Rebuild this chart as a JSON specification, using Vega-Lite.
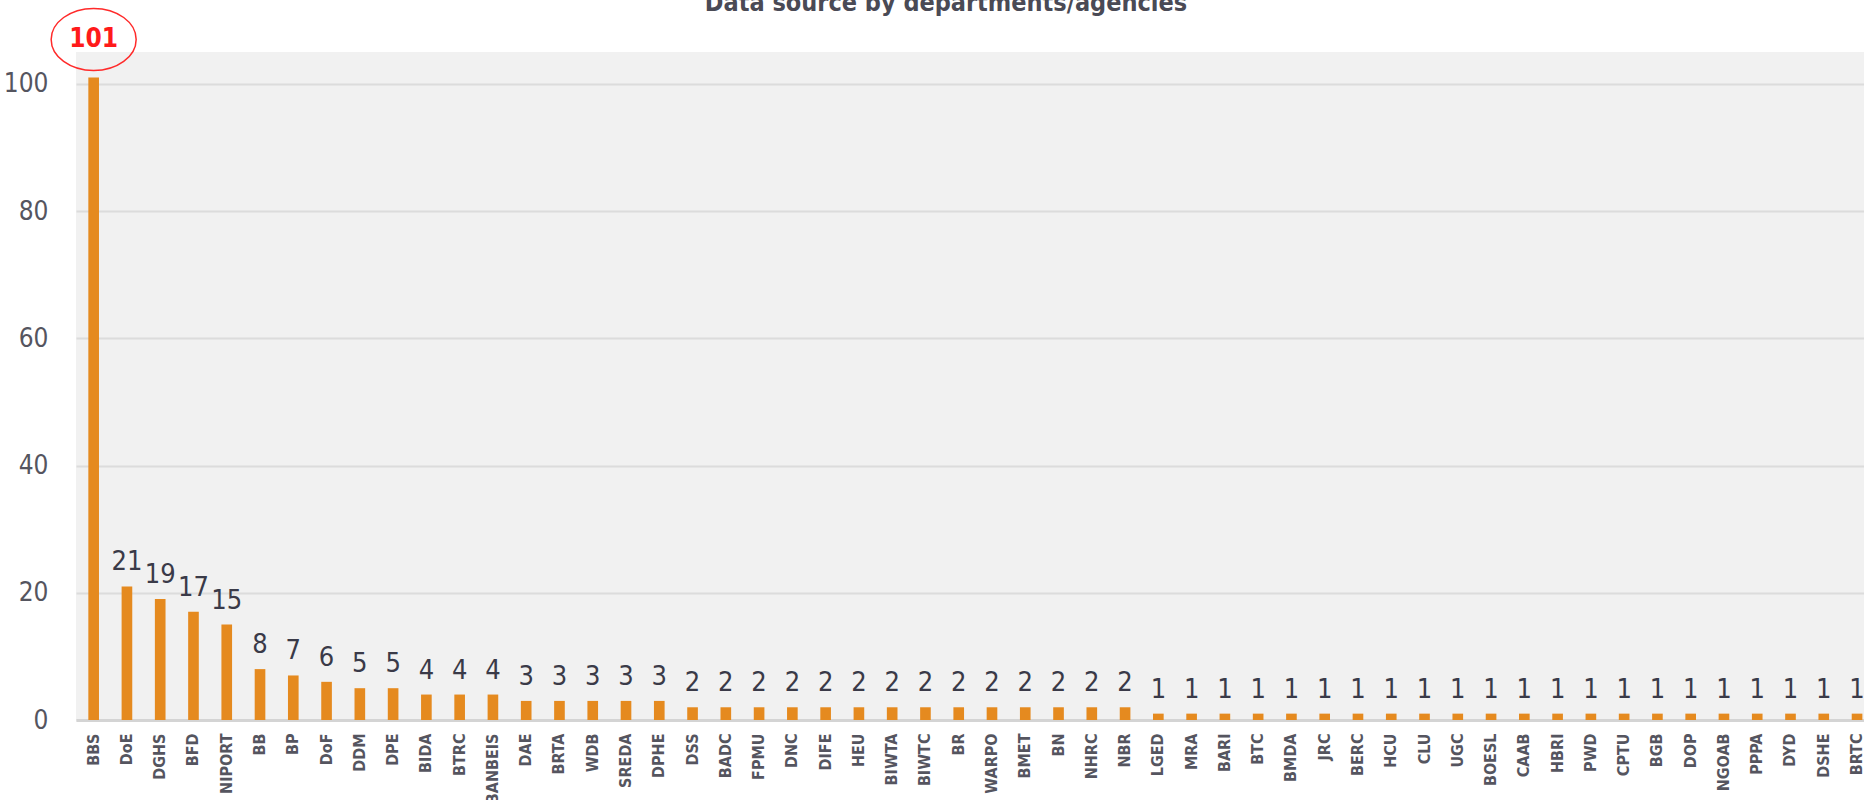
{
  "$schema": "https://vega.github.io/schema/vega-lite/v6.json",
  "autosize": {"type": "none"},
  "padding": {"left": 76, "top": 52, "right": 0, "bottom": 80},
  "width": 1788,
  "height": 668,
  "background": "#ffffff",
  "title": {
    "text": "Data source by departments/agencies",
    "font": "DejaVu Sans Condensed, sans-serif",
    "fontSize": 25,
    "fontWeight": "bold",
    "color": "#4a4a55",
    "anchor": "middle",
    "baseline": "alphabetic",
    "offset": 0,
    "dy": 31,
    "dx": -24
  },
  "config": {
    "view": {"fill": "#f1f1f1", "stroke": null},
    "font": "DejaVu Sans Condensed, sans-serif"
  },
  "data": {
    "values": [
      {"agency": "BBS", "count": 101},
      {"agency": "DoE", "count": 21},
      {"agency": "DGHS", "count": 19},
      {"agency": "BFD", "count": 17},
      {"agency": "NIPORT", "count": 15},
      {"agency": "BB", "count": 8},
      {"agency": "BP", "count": 7},
      {"agency": "DoF", "count": 6},
      {"agency": "DDM", "count": 5},
      {"agency": "DPE", "count": 5},
      {"agency": "BIDA", "count": 4},
      {"agency": "BTRC", "count": 4},
      {"agency": "BANBEIS", "count": 4},
      {"agency": "DAE", "count": 3},
      {"agency": "BRTA", "count": 3},
      {"agency": "WDB", "count": 3},
      {"agency": "SREDA", "count": 3},
      {"agency": "DPHE", "count": 3},
      {"agency": "DSS", "count": 2},
      {"agency": "BADC", "count": 2},
      {"agency": "FPMU", "count": 2},
      {"agency": "DNC", "count": 2},
      {"agency": "DIFE", "count": 2},
      {"agency": "HEU", "count": 2},
      {"agency": "BIWTA", "count": 2},
      {"agency": "BIWTC", "count": 2},
      {"agency": "BR", "count": 2},
      {"agency": "WARPO", "count": 2},
      {"agency": "BMET", "count": 2},
      {"agency": "BN", "count": 2},
      {"agency": "NHRC", "count": 2},
      {"agency": "NBR", "count": 2},
      {"agency": "LGED", "count": 1},
      {"agency": "MRA", "count": 1},
      {"agency": "BARI", "count": 1},
      {"agency": "BTC", "count": 1},
      {"agency": "BMDA", "count": 1},
      {"agency": "JRC", "count": 1},
      {"agency": "BERC", "count": 1},
      {"agency": "HCU", "count": 1},
      {"agency": "CLU", "count": 1},
      {"agency": "UGC", "count": 1},
      {"agency": "BOESL", "count": 1},
      {"agency": "CAAB", "count": 1},
      {"agency": "HBRI", "count": 1},
      {"agency": "PWD", "count": 1},
      {"agency": "CPTU", "count": 1},
      {"agency": "BGB", "count": 1},
      {"agency": "DOP", "count": 1},
      {"agency": "NGOAB", "count": 1},
      {"agency": "PPPA", "count": 1},
      {"agency": "DYD", "count": 1},
      {"agency": "DSHE", "count": 1},
      {"agency": "BRTC", "count": 1}
    ]
  },
  "encoding": {
    "x": {
      "field": "agency",
      "type": "nominal",
      "sort": null,
      "scale": {"paddingInner": 0.68, "paddingOuter": 0.21, "align": 0.883},
      "axis": {
        "title": null,
        "labelAngle": -90,
        "labelAlign": "right",
        "labelBaseline": "middle",
        "labelFontSize": 16,
        "labelFontWeight": "bold",
        "labelColor": "#55555f",
        "labelPadding": 13,
        "ticks": false,
        "domain": true,
        "domainColor": "#d4d4d4",
        "domainWidth": 3,
        "grid": false
      }
    },
    "y": {
      "field": "count",
      "type": "quantitative",
      "scale": {"domain": [0, 105], "nice": false},
      "axis": {
        "title": null,
        "values": [0, 20, 40, 60, 80, 100],
        "labelFontSize": 26,
        "labelColor": "#55555f",
        "labelPadding": 28,
        "ticks": false,
        "domain": false,
        "grid": true,
        "gridColor": "#dcdcdc",
        "gridWidth": 2
      }
    }
  },
  "layer": [
    {"mark": {"type": "bar", "color": "#e58a1f"}},
    {
      "transform": [{"filter": "datum.agency !== 'BBS'"}],
      "mark": {"type": "text", "baseline": "alphabetic", "dy": -16, "fontSize": 27, "color": "#3a3a48"},
      "encoding": {"text": {"field": "count", "type": "quantitative"}}
    },
    {
      "transform": [{"filter": "datum.agency === 'BBS'"}],
      "mark": {
        "type": "point",
        "shape": "M-1,0 A1,0.73 0 1,0 1,0 A1,0.73 0 1,0 -1,0 Z",
        "size": 7225,
        "filled": false,
        "stroke": "#ff2a2a",
        "strokeWidth": 1.5,
        "opacity": 1
      },
      "encoding": {"yOffset": {"value": -38}}
    },
    {
      "transform": [{"filter": "datum.agency === 'BBS'"}],
      "mark": {"type": "text", "baseline": "middle", "dy": -38, "fontSize": 26, "fontWeight": "bold", "color": "#ff1a1a"},
      "encoding": {"text": {"field": "count", "type": "quantitative"}}
    }
  ]
}
